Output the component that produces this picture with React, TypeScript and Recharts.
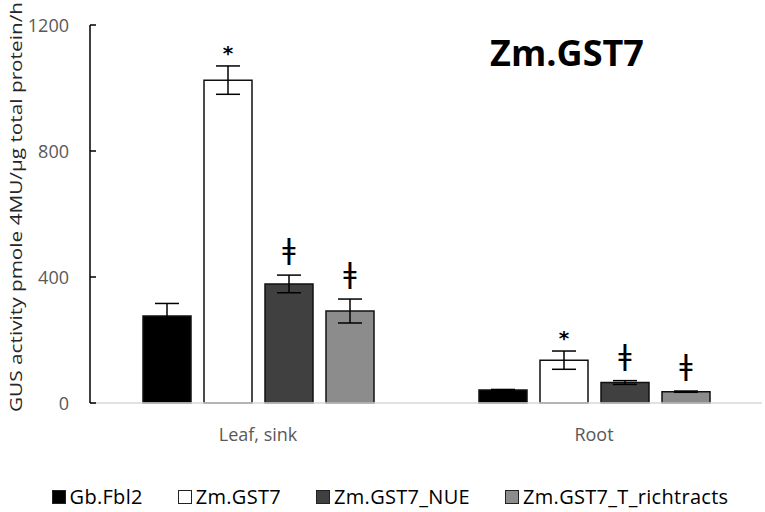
import React from "react"
import {
  BarChart,
  Bar,
  XAxis,
  YAxis,
  ErrorBar,
  Legend,
  LabelList
} from "recharts"

const categories = ["Leaf, sink", "Root"]

const gbFbl2 = [276, 41]
const gbFbl2Err = [40, 2]
const gbFbl2Marks = ["", ""]

const zmGst7 = [1025, 136]
const zmGst7Err = [45, 29]
const zmGst7Marks = ["*", "*"]

const zmGst7Nue = [378, 65]
const zmGst7NueErr = [28, 6]
const zmGst7NueMarks = ["ǂ", "ǂ"]

const zmGst7Rich = [292, 36]
const zmGst7RichErr = [38, 2]
const zmGst7RichMarks = ["ǂ", "ǂ"]

const yTicks = [0, 400, 800, 1200]

const title = "Zm.GST7"
const yLabel = "GUS activity pmole 4MU/μg total protein/h"

const FONT = "'Open Sans', 'DejaVu Sans', sans-serif"

const series = [
  { key: "gb", name: "Gb.Fbl2", fill: "#000000", values: gbFbl2, errs: gbFbl2Err, marks: gbFbl2Marks },
  { key: "gst", name: "Zm.GST7", fill: "#ffffff", values: zmGst7, errs: zmGst7Err, marks: zmGst7Marks },
  { key: "nue", name: "Zm.GST7_NUE", fill: "#404040", values: zmGst7Nue, errs: zmGst7NueErr, marks: zmGst7NueMarks },
  { key: "rich", name: "Zm.GST7_T_richtracts", fill: "#8c8c8c", values: zmGst7Rich, errs: zmGst7RichErr, marks: zmGst7RichMarks },
]

const data = categories.map((category, i) => {
  const row: any = { category }
  series.forEach(s => {
    row[s.key] = s.values[i]
    row[s.key + "Err"] = s.errs[i]
    row[s.key + "Mark"] = s.marks[i]
  })
  return row
})

const YTick = (props: any) => {
  const { x, y, payload } = props
  return (
    <g>
      <line x1={x + 21} x2={x + 27} y1={y} y2={y} stroke="#000" strokeWidth={1.5} />
      <text
        x={x}
        y={y}
        textAnchor="end"
        dominantBaseline="central"
        fill="#595959"
        fontSize={18}
        fontFamily={FONT}
      >
        {payload.value}
      </text>
    </g>
  )
}

const YLabel = (props: any) => {
  const vb = props.viewBox || { x: 0, y: 25, width: 90, height: 378 }
  const cx = vb.x + 15
  const cy = vb.y + vb.height / 2 - 7
  return (
    <text
      x={cx}
      y={cy}
      transform={`rotate(-90, ${cx}, ${cy})`}
      textAnchor="middle"
      dominantBaseline="central"
      fill="#262626"
      fontSize={17}
      fontFamily={FONT}
      textLength={410}
      lengthAdjust="spacingAndGlyphs"
    >
      {yLabel}
    </text>
  )
}

// marks sit above the error bar, so work out its pixel length from the bar itself
const makeMark = (values: number[], errs: number[]) => (props: any) => {
  const vb = props.viewBox || props
  const { x, y, width, height } = vb
  const index = props.index
  const value = props.value
  if (!value || index == null) return null
  const pxPerUnit = height / values[index]
  const top = y - errs[index] * pxPerUnit
  const star = value === "*"
  return (
    <text
      x={x + width / 2}
      y={top - (star ? 13 : 26)}
      textAnchor="middle"
      dominantBaseline="central"
      fill="#000"
      fontSize={star ? 20 : 29}
      fontWeight={star ? "bold" : "normal"}
      fontFamily="'DejaVu Sans', sans-serif"
    >
      {value}
    </text>
  )
}

const LegendContent = () => (
  <div
    style={{
      height: 69,
      paddingTop: 38,
      boxSizing: "border-box",
      display: "flex",
      justifyContent: "center",
      gap: 35,
      paddingLeft: 18,
      fontFamily: FONT,
      fontSize: 20,
      color: "#000",
      lineHeight: "24px",
    }}
  >
    {series.map(s => (
      <div key={s.key} style={{ display: "flex", alignItems: "center", gap: 4 }}>
        <span
          style={{
            display: "inline-block",
            width: 12,
            height: 12,
            background: s.fill,
            border: "1px solid #222",
          }}
        />
        <span style={{ letterSpacing: 0.3 }}>{s.name}</span>
      </div>
    ))}
  </div>
)

export default function App() {
  return (
    <div style={{ position: "absolute", left: 0, top: 0, width: 765, height: 512, background: "#fff" }}>
      <BarChart
        width={765}
        height={512}
        data={data}
        margin={{ top: 25, right: 3, left: 0, bottom: 0 }}
        barSize={48}
        barGap={13}
      >
        <XAxis
          dataKey="category"
          height={40}
          axisLine={{ stroke: "#d9d9d9", strokeWidth: 1.5 }}
          tickLine={false}
          tickSize={0}
          tickMargin={25}
          tick={{ fill: "#595959", fontSize: 18, fontFamily: FONT }}
        />
        <YAxis
          width={90}
          domain={[0, 1200]}
          ticks={yTicks}
          axisLine={{ stroke: "#000", strokeWidth: 1.5 }}
          tickLine={false}
          tickSize={0}
          tickMargin={21}
          tick={<YTick />}
          label={<YLabel />}
        />
        <Legend verticalAlign="bottom" content={<LegendContent />} />
        {series.map(s => (
          <Bar
            key={s.key}
            dataKey={s.key}
            name={s.name}
            fill={s.fill}
            stroke="#111"
            strokeWidth={1.5}
            isAnimationActive={false}
          >
            <ErrorBar dataKey={s.key + "Err"} width={12} stroke="#000" strokeWidth={1.5} />
            <LabelList dataKey={s.key + "Mark"} content={makeMark(s.values, s.errs)} />
          </Bar>
        ))}
      </BarChart>
      <div
        style={{
          position: "absolute",
          left: 467,
          top: 35,
          width: 200,
          textAlign: "center",
          fontFamily: FONT,
          fontWeight: "bold",
          fontSize: 36,
          lineHeight: "36px",
          color: "#000",
        }}
      >
        {title}
      </div>
    </div>
  )
}
